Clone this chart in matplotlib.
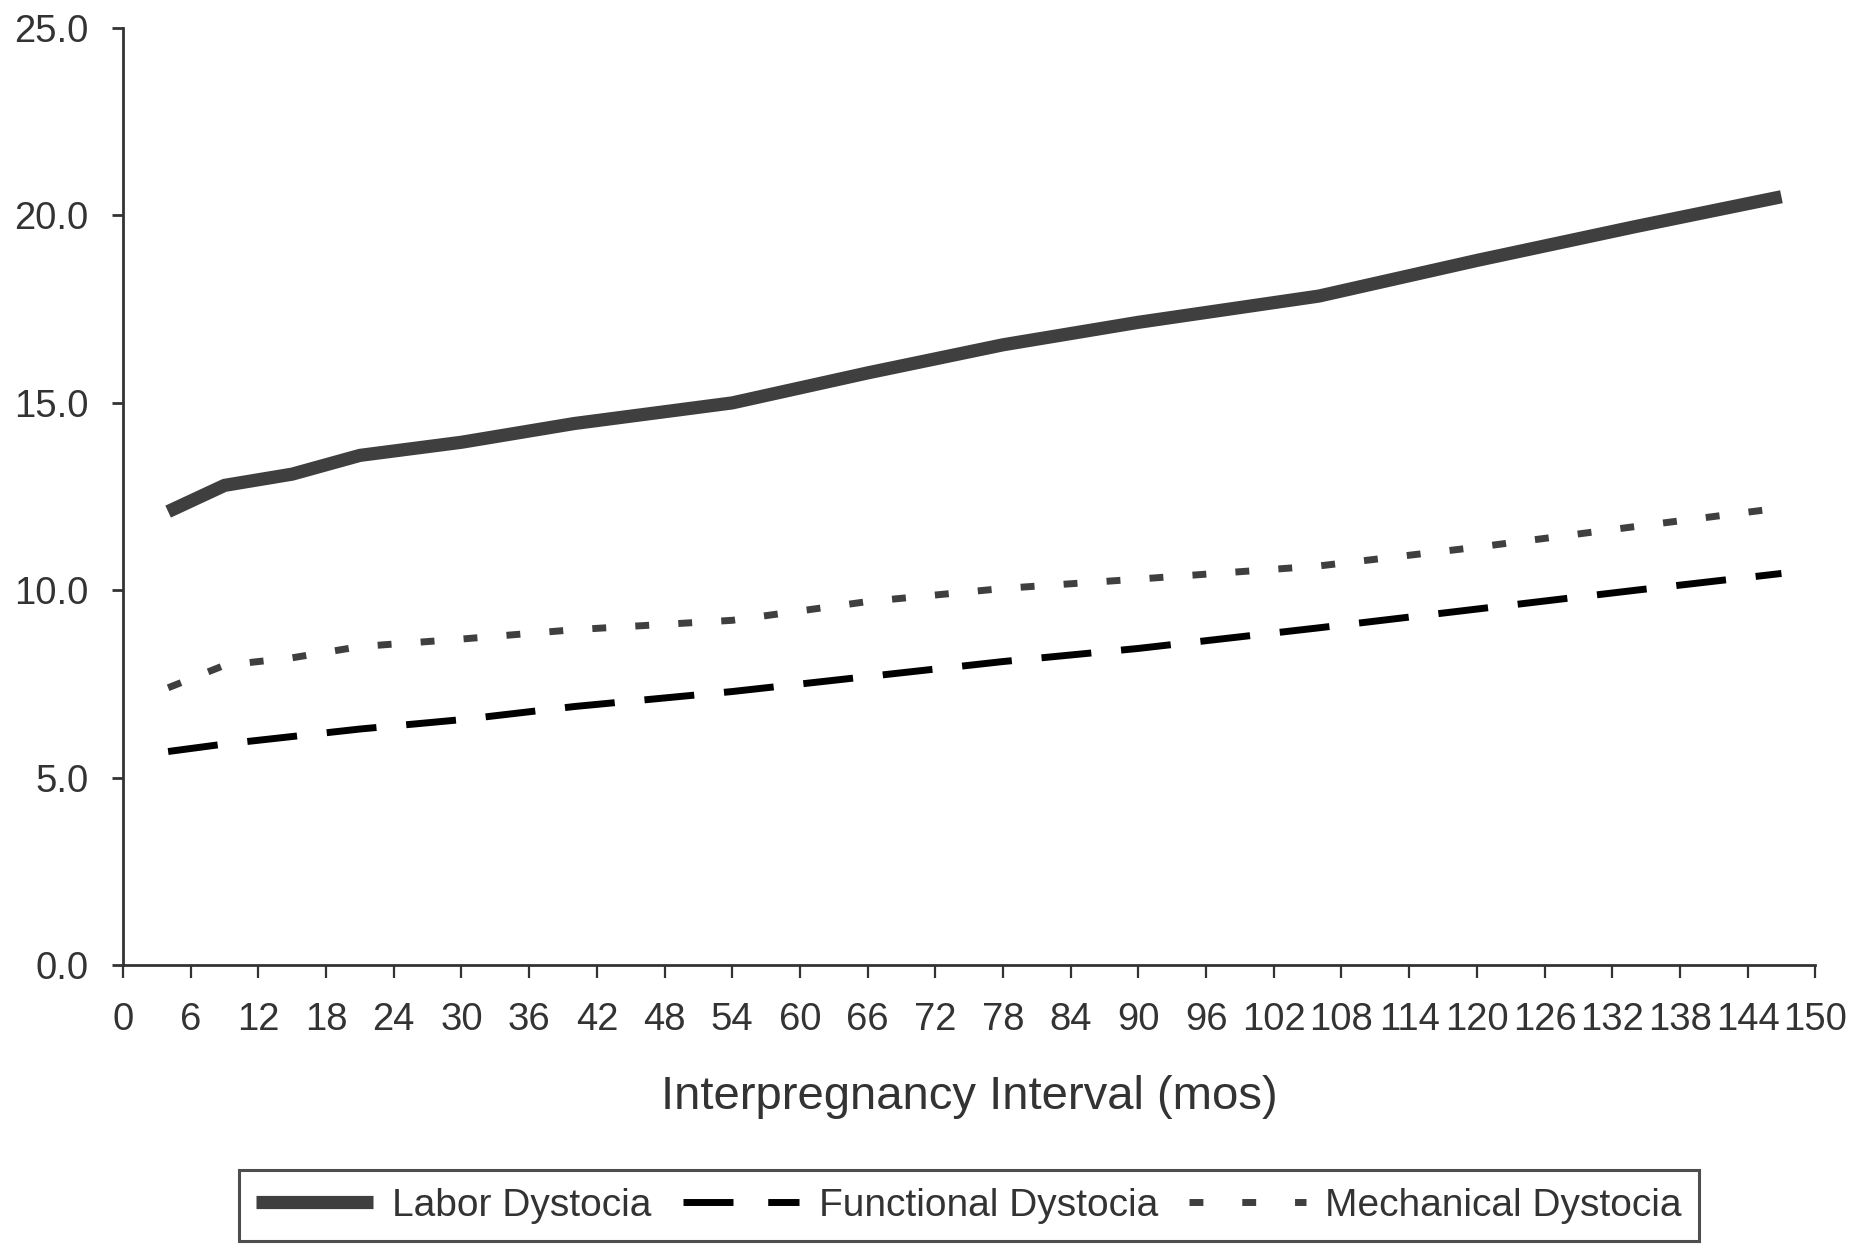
import matplotlib
matplotlib.use("Agg")
import matplotlib.pyplot as plt
from matplotlib.lines import Line2D

plt.rcParams['font.family'] = ['Liberation Sans', 'DejaVu Sans']

# Data
interval_months = [4, 9, 15, 21, 30, 40, 54, 66, 78, 90, 106, 120, 134, 147]
labor_dystocia = [12.1, 12.8, 13.1, 13.6, 13.95, 14.45, 15.0, 15.8, 16.55, 17.15, 17.85, 18.8, 19.7, 20.5]
functional_dystocia = [5.7, 5.9, 6.1, 6.3, 6.55, 6.9, 7.3, 7.7, 8.1, 8.45, 9.0, 9.5, 10.0, 10.45]
mechanical_dystocia = [7.4, 8.0, 8.2, 8.5, 8.7, 8.95, 9.2, 9.7, 10.05, 10.3, 10.65, 11.15, 11.7, 12.2]

x_ticks = list(range(0, 150, 6)) + [150]
y_ticks = [0, 5, 10, 15, 20, 25]
x_label = "Interpregnancy Interval (mos)"
series_names = ["Labor Dystocia", "Functional Dystocia", "Mechanical Dystocia"]

fig = plt.figure(figsize=(18.72, 12.47), dpi=100)
ax = fig.add_axes([0.0657, 0.226, 0.904, 0.7515])

gray = "#3f3f3f"
ax.plot(interval_months, labor_dystocia, color=gray, lw=9.5,
        solid_capstyle='butt', solid_joinstyle='round')
ax.plot(interval_months, functional_dystocia, color="black", lw=5,
        linestyle=(0, (7.2, 4.3)), dash_capstyle='butt')
ax.plot(interval_months, mechanical_dystocia, color=gray, lw=5,
        linestyle=(0, (2.0, 4.2)), dash_capstyle='butt')

ax.set_xlim(0, 150)
ax.set_ylim(0, 25)
ax.set_xticks(x_ticks)
ax.set_xticklabels([str(t) for t in x_ticks])
ax.set_yticks(y_ticks)
ax.set_yticklabels([f"{t:.1f}" for t in y_ticks])

for s in ['top', 'right']:
    ax.spines[s].set_visible(False)
for s in ['left', 'bottom']:
    ax.spines[s].set_color("#333333")
    ax.spines[s].set_linewidth(2)

ax.tick_params(axis='x', direction='out', length=9.5, width=1.6, color="#333333",
               labelsize=27.5, labelcolor="#333333", pad=17)
ax.tick_params(axis='y', direction='out', length=8, width=2, color="#333333",
               labelsize=27.5, labelcolor="#333333", pad=17)

ax.set_xlabel(x_label, fontsize=34, color="#333333", labelpad=27)

handles = [
    Line2D([0], [0], color=gray, lw=9.5, solid_capstyle='butt'),
    Line2D([0], [0], color="black", lw=5, linestyle=(0, (7.2, 5.0))),
    Line2D([0], [0], color=gray, lw=5, linestyle=(0, (2.0, 5.6))),
]
leg = fig.legend(handles, series_names, loc='lower center', bbox_to_anchor=(0.5176, 0.0),
                 ncol=3, fontsize=28, frameon=True, fancybox=False, edgecolor="#222222",
                 handlelength=3.0, handletextpad=0.5, columnspacing=0.8,
                 borderpad=0.45, borderaxespad=0.15, labelcolor="#333333")
leg.get_frame().set_linewidth(2.2)

fig.savefig("out.png", dpi=100, facecolor="white")
